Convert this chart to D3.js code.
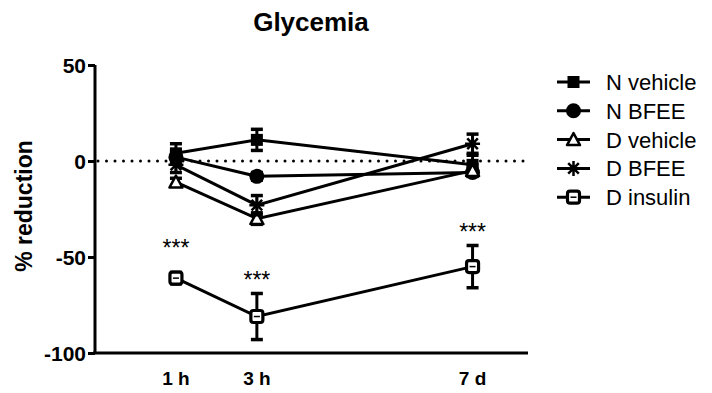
<!DOCTYPE html>
<html>
<head>
<meta charset="utf-8">
<script src="https://cdn.jsdelivr.net/npm/d3@7"></script>
<style>
  body { margin: 0; background: #fff; }
  svg { font-family: "Liberation Sans", Arial, sans-serif; }
</style>
</head>
<body>
<div id="chart"></div>
<script>
// time points (x position in chart units) and labels
var timeLabels = ["1 h", "3 h", "7 d"];
var timeX = [1, 3, 8.33];

var seriesNames = ["N vehicle", "N BFEE", "D vehicle", "D BFEE", "D insulin"];
var nVehicle = [4, 11, -2];
var nVehicleErr = [5, 5.5, 5];
var nBfee = [2, -8, -6];
var nBfeeErr = [3, 2, 2];
var dVehicle = [-11, -30, -5];
var dVehicleErr = [2, 3, 3];
var dBfee = [-2, -23, 9];
var dBfeeErr = [4, 5, 5];
var dInsulin = [-61, -81, -55];
var dInsulinErr = [3, 12, 11];
// significance labels and the level (in % units) where they sit
var starLabels = ["***", "***", "***"];
var starLevel = [-49.5, -66, -41];

var yTicks = [50, 0, -50, -100];

var width = 712, height = 393;
var svg = d3.select("#chart").append("svg")
    .attr("width", width)
    .attr("height", height);

var x = d3.scaleLinear().domain([-1, 9.7]).range([95, 528]);
var y = d3.scaleLinear().domain([-100, 50]).range([353, 65]);

var series = [
  {name: seriesNames[0], mean: nVehicle, err: nVehicleErr, shape: "square"},
  {name: seriesNames[1], mean: nBfee, err: nBfeeErr, shape: "circle"},
  {name: seriesNames[2], mean: dVehicle, err: dVehicleErr, shape: "triangle"},
  {name: seriesNames[3], mean: dBfee, err: dBfeeErr, shape: "star"},
  {name: seriesNames[4], mean: dInsulin, err: dInsulinErr, shape: "box"}
];

// title
svg.append("text")
    .attr("x", 311).attr("y", 31)
    .attr("text-anchor", "middle")
    .style("font-size", "26px").style("font-weight", "bold")
    .text("Glycemia");

// y axis
var yAxis = svg.append("g")
    .attr("transform", "translate(95,0)")
    .call(d3.axisLeft(y).tickValues(yTicks).tickSize(7).tickPadding(2)
      .tickFormat(function(d) { return String(d); }));
yAxis.select(".domain").attr("stroke-width", 3).attr("d", "M0," + y(50) + "V" + y(-100));
yAxis.selectAll(".tick line").attr("stroke-width", 3);
yAxis.selectAll(".tick text")
    .style("font-size", "21px").style("font-weight", "bold")
    .attr("fill", "#000").attr("dy", "0.36em");

svg.append("text")
    .attr("transform", "translate(32,206) rotate(-90)")
    .attr("text-anchor", "middle")
    .style("font-size", "23px").style("font-weight", "bold")
    .text("% reduction");

// x axis (no ticks)
svg.append("line")
    .attr("x1", 93).attr("x2", x(9.7))
    .attr("y1", y(-100)).attr("y2", y(-100))
    .attr("stroke", "#000").attr("stroke-width", 3);

svg.selectAll(".xlab")
    .data(timeLabels)
  .enter().append("text")
    .attr("class", "xlab")
    .attr("x", function(d, i) { return x(timeX[i]); })
    .attr("y", 385)
    .attr("text-anchor", "middle")
    .style("font-size", "19px").style("font-weight", "bold")
    .text(function(d) { return d; });

// zero dotted line
svg.append("line")
    .attr("x1", 98).attr("x2", x(9.7))
    .attr("y1", y(0)).attr("y2", y(0))
    .attr("stroke", "#000").attr("stroke-width", 3)
    .attr("stroke-dasharray", "0 8.5").attr("stroke-linecap", "round");

function drawMarker(g, shape) {
  if (shape === "square") {
    g.append("rect").attr("x", -6).attr("y", -6).attr("width", 12).attr("height", 12).attr("fill", "#000");
  } else if (shape === "circle") {
    g.append("circle").attr("r", 7.5).attr("fill", "#000");
  } else if (shape === "triangle") {
    g.append("path").attr("d", "M0,-6.5L6.5,5.5L-6.5,5.5Z")
      .attr("fill", "#fff").attr("stroke", "#000").attr("stroke-width", 2.5).attr("stroke-linejoin", "round");
  } else if (shape === "star") {
    var p = "";
    d3.range(4).forEach(function(k) {
      var a = k * Math.PI / 4, r = 7.5;
      p += "M" + (-r * Math.cos(a)) + "," + (-r * Math.sin(a)) + "L" + (r * Math.cos(a)) + "," + (r * Math.sin(a));
    });
    g.append("path").attr("d", p).attr("stroke", "#000").attr("stroke-width", 2.5);
  } else if (shape === "box") {
    g.append("rect").attr("x", -6).attr("y", -6).attr("width", 12).attr("height", 12).attr("rx", 2.5)
      .attr("fill", "#fff").attr("stroke", "#000").attr("stroke-width", 3.2);
    g.append("line").attr("x1", -3).attr("x2", 3).attr("y1", 0).attr("y2", 0)
      .attr("stroke", "#000").attr("stroke-width", 1.5);
  }
}

var line = d3.line()
    .x(function(d, i) { return x(timeX[i]); })
    .y(function(d) { return y(d); });

// lines
series.forEach(function(s) {
  svg.append("path")
      .datum(s.mean)
      .attr("d", line)
      .attr("fill", "none").attr("stroke", "#000").attr("stroke-width", 3);
});

// error bars and markers
series.forEach(function(s) {
  s.mean.forEach(function(m, i) {
    var cx = x(timeX[i]);
    var eb = svg.append("g");
    eb.append("line").attr("x1", cx).attr("x2", cx).attr("y1", y(m + s.err[i])).attr("y2", y(m - s.err[i]))
      .attr("stroke", "#000").attr("stroke-width", 3);
    [m + s.err[i], m - s.err[i]].forEach(function(v) {
      eb.append("line").attr("x1", cx - 6).attr("x2", cx + 6).attr("y1", y(v)).attr("y2", y(v))
        .attr("stroke", "#000").attr("stroke-width", 3.5);
    });
    var g = svg.append("g").attr("transform", "translate(" + cx + "," + y(m) + ")");
    drawMarker(g, s.shape);
  });
});

// significance stars above D insulin
svg.selectAll(".stars")
    .data(starLabels)
  .enter().append("text")
    .attr("class", "stars")
    .attr("x", function(d, i) { return x(timeX[i]); })
    .attr("y", function(d, i) { return y(starLevel[i]); })
    .attr("text-anchor", "middle")
    .style("font-size", "23px")
    .text(function(d) { return d; });

// legend
var legend = svg.append("g").attr("transform", "translate(557,82)");
series.forEach(function(s, i) {
  var row = legend.append("g").attr("transform", "translate(0," + (i * 28.8) + ")");
  row.append("line").attr("x1", 0).attr("x2", 33).attr("y1", 0).attr("y2", 0)
    .attr("stroke", "#000").attr("stroke-width", 3);
  var g = row.append("g").attr("transform", "translate(16.5,0)");
  drawMarker(g, s.shape);
  row.append("text")
    .attr("x", 49).attr("y", 0).attr("dy", "0.36em")
    .style("font-size", "22px")
    .text(s.name);
});
</script>
</body>
</html>
